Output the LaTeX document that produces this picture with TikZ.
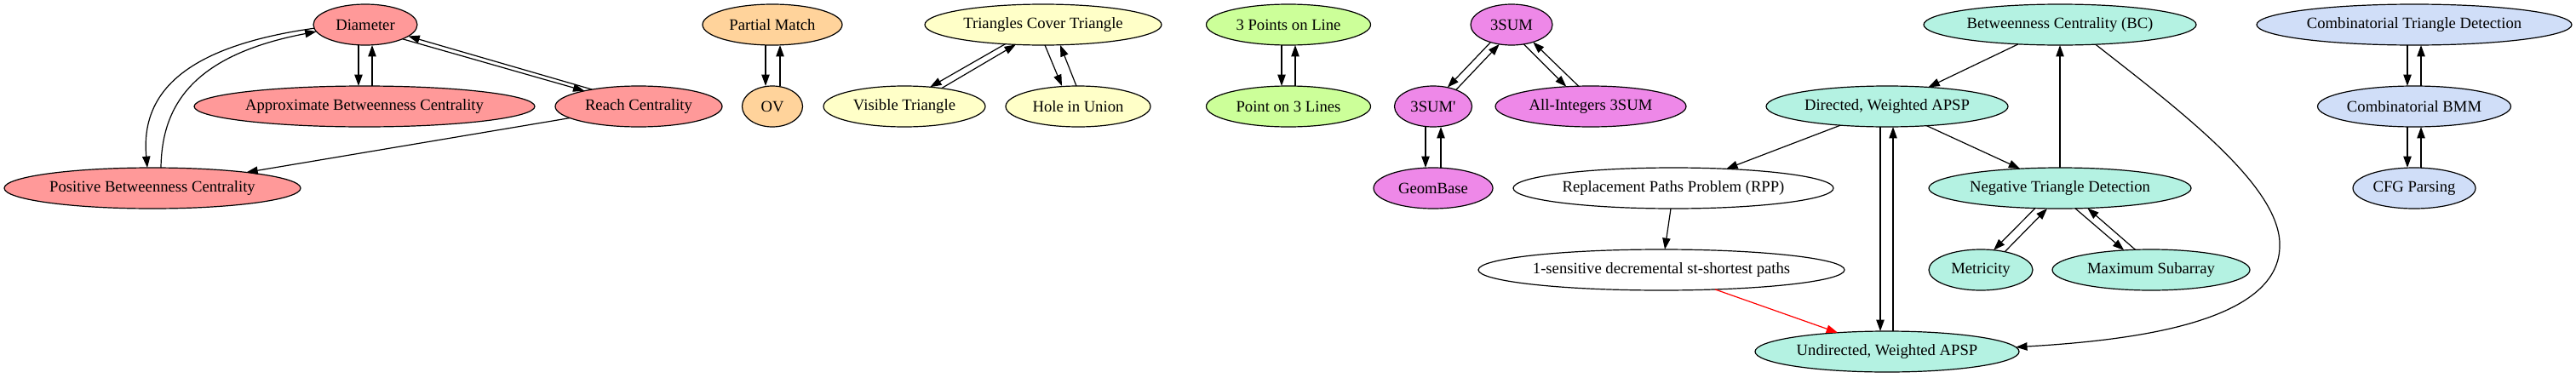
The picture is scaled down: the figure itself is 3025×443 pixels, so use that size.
\documentclass[tikz,border=0pt]{standalone}
\usepackage{fontspec}
\setmainfont{Liberation Serif}
\usetikzlibrary{arrows.meta,shapes.geometric}
\definecolor{cred}{HTML}{FF9999}
\definecolor{cpeach}{HTML}{FFD39B}
\definecolor{cyel}{HTML}{FFFFC8}
\definecolor{cgrn}{HTML}{CCFF99}
\definecolor{cvio}{HTML}{EE88E8}
\definecolor{caqua}{HTML}{B4F2E2}
\definecolor{cblu}{HTML}{D0DEF8}
\def\ppx{0.75pt}
\tikzset{
  nd/.style={ellipse, draw, line width=0.9pt, minimum height=36pt, inner sep=0pt, outer sep=0pt,
    font=\fontsize{14pt}{16pt}\selectfont},
  wd/.style={minimum width=#1*0.75pt},
  arr/.style={draw, line width=0.9pt, -{Triangle[length=10pt,width=7pt]}},
}
\begin{document}
\begin{tikzpicture}[x=0.75pt,y=0.75pt]
\useasboundingbox (0,0) rectangle (3025,-443);
% nodes
\node[nd,fill=cred,wd=122] (dia) at (429,-29) {Diameter};
\node[nd,fill=cred,wd=400] (abc) at (428,-125) {Approximate Betweenness Centrality};
\node[nd,fill=cred,wd=196] (rc) at (750,-125) {Reach Centrality};
\node[nd,fill=cred,wd=348] (pbc) at (179,-221) {Positive Betweenness Centrality};
\node[nd,fill=cpeach,wd=164] (pm) at (907,-29) {Partial Match};
\node[nd,fill=cpeach,wd=71] (ov) at (907,-125) {OV};
\node[nd,fill=cyel,wd=278] (tct) at (1225,-29) {Triangles Cover Triangle};
\node[nd,fill=cyel,wd=190] (vt) at (1062,-125) {Visible Triangle};
\node[nd,fill=cyel,wd=170] (hu) at (1266,-125) {Hole in Union};
\node[nd,fill=cgrn,wd=193] (tpl) at (1513,-29) {3 Points on Line};
\node[nd,fill=cgrn,wd=193] (pl3) at (1513,-125) {Point on 3 Lines};
\node[nd,fill=cvio,wd=96] (s3) at (1775,-29) {3SUM};
\node[nd,fill=cvio,wd=91] (s3p) at (1683,-125) {3SUM\textquotesingle};
\node[nd,fill=cvio,wd=224] (ai3) at (1868,-125) {All-Integers 3SUM};
\node[nd,fill=cvio,wd=140] (gb) at (1683,-221) {GeomBase};
\node[nd,fill=caqua,wd=320] (bc) at (2419,-29) {Betweenness Centrality (BC)};
\node[nd,fill=caqua,wd=284] (dap) at (2216,-125) {Directed, Weighted APSP};
\node[nd,fill=white,wd=376] (rpp) at (1965,-221) {Replacement Paths Problem (RPP)};
\node[nd,fill=caqua,wd=308] (ntd) at (2419,-221) {Negative Triangle Detection};
\node[nd,fill=white,wd=430] (sens) at (1951,-317) {1-sensitive decremental st-shortest paths};
\node[nd,fill=caqua,wd=122] (met) at (2326,-317) {Metricity};
\node[nd,fill=caqua,wd=232] (msa) at (2526,-317) {Maximum Subarray};
\node[nd,fill=caqua,wd=310] (uap) at (2216,-413) {Undirected, Weighted APSP};
\node[nd,fill=cblu,wd=370] (ctd) at (2835,-29) {Combinatorial Triangle Detection};
\node[nd,fill=cblu,wd=227] (cbm) at (2835,-125) {Combinatorial BMM};
\node[nd,fill=cblu,wd=144] (cfg) at (2835,-221) {CFG Parsing};
\coordinate (bcbend) at (2677,-290);
% red group
\draw[arr] ([xshift=-8*\ppx]dia.south) -- ([xshift=-7*\ppx]abc.north);
\draw[arr] ([xshift=9*\ppx]abc.north) -- ([xshift=8*\ppx]dia.south);
\draw[arr] (dia.-21) -- (rc.164);
\draw[arr] (rc.160) -- (dia.-15);
\draw[arr] (dia.184) .. controls (215,-55) and (165,-110) .. ([xshift=-6*\ppx]pbc.north);
\draw[arr] ([xshift=10*\ppx]pbc.north) .. controls (190,-125) and (225,-65) .. (dia.188);
\draw[arr] (rc) -- (pbc);
% peach
\draw[arr] ([xshift=-8*\ppx]pm.south) -- ([xshift=-8*\ppx]ov.north);
\draw[arr] ([xshift=9*\ppx]ov.north) -- ([xshift=9*\ppx]pm.south);
% yellow
\draw[arr] (tct.207) -- (vt.37);
\draw[arr] (vt.26) -- (tct.216);
\draw[arr] ([xshift=2*\ppx]tct.south) -- ([xshift=-19*\ppx]hu.north);
\draw[arr] ([xshift=-2*\ppx]hu.north) -- ([xshift=20*\ppx]tct.south);
% green
\draw[arr] ([xshift=-8*\ppx]tpl.south) -- ([xshift=-8*\ppx]pl3.north);
\draw[arr] ([xshift=8*\ppx]pl3.north) -- ([xshift=8*\ppx]tpl.south);
% violet
\draw[arr] (s3.220) -- (s3p.53);
\draw[arr] (s3p.36) -- (s3.238);
\draw[arr] (s3.302) -- (ai3.141);
\draw[arr] (ai3.121) -- (s3.321);
\draw[arr] ([xshift=-9*\ppx]s3p.south) -- ([xshift=-9*\ppx]gb.north);
\draw[arr] ([xshift=9*\ppx]gb.north) -- ([xshift=9*\ppx]s3p.south);
% aqua
\draw[arr] (bc.205) -- (dap.25);
\draw[arr] (ntd.north) -- (bc.south);
\draw[arr] (bc.331) .. controls (2560,-130) and (2680,-220) .. (bcbend) .. controls (2675,-380) and (2500,-400) .. (uap.2);
\draw[arr] (dap.202) -- (rpp.20);
\draw[arr] (dap.334) -- (ntd.154);
\draw[arr] ([xshift=-3*\ppx]rpp.south) -- ([xshift=4*\ppx]sens.north);
\draw[arr,red] (sens.340) -- (uap.159);
\draw[arr] ([xshift=-8*\ppx]dap.south) -- ([xshift=-8*\ppx]uap.north);
\draw[arr] ([xshift=7*\ppx]uap.north) -- ([xshift=7*\ppx]dap.south);
\draw[arr] (ntd.219) -- (met.57);
\draw[arr] (met.37) -- (ntd.238);
\draw[arr] (ntd.307) -- (msa.144);
\draw[arr] (msa.128) -- (ntd.324);
% blue
\draw[arr] ([xshift=-8*\ppx]ctd.south) -- ([xshift=-8*\ppx]cbm.north);
\draw[arr] ([xshift=8*\ppx]cbm.north) -- ([xshift=8*\ppx]ctd.south);
\draw[arr] ([xshift=-8*\ppx]cbm.south) -- ([xshift=-8*\ppx]cfg.north);
\draw[arr] ([xshift=8*\ppx]cfg.north) -- ([xshift=8*\ppx]cbm.south);
\end{tikzpicture}
\end{document}
